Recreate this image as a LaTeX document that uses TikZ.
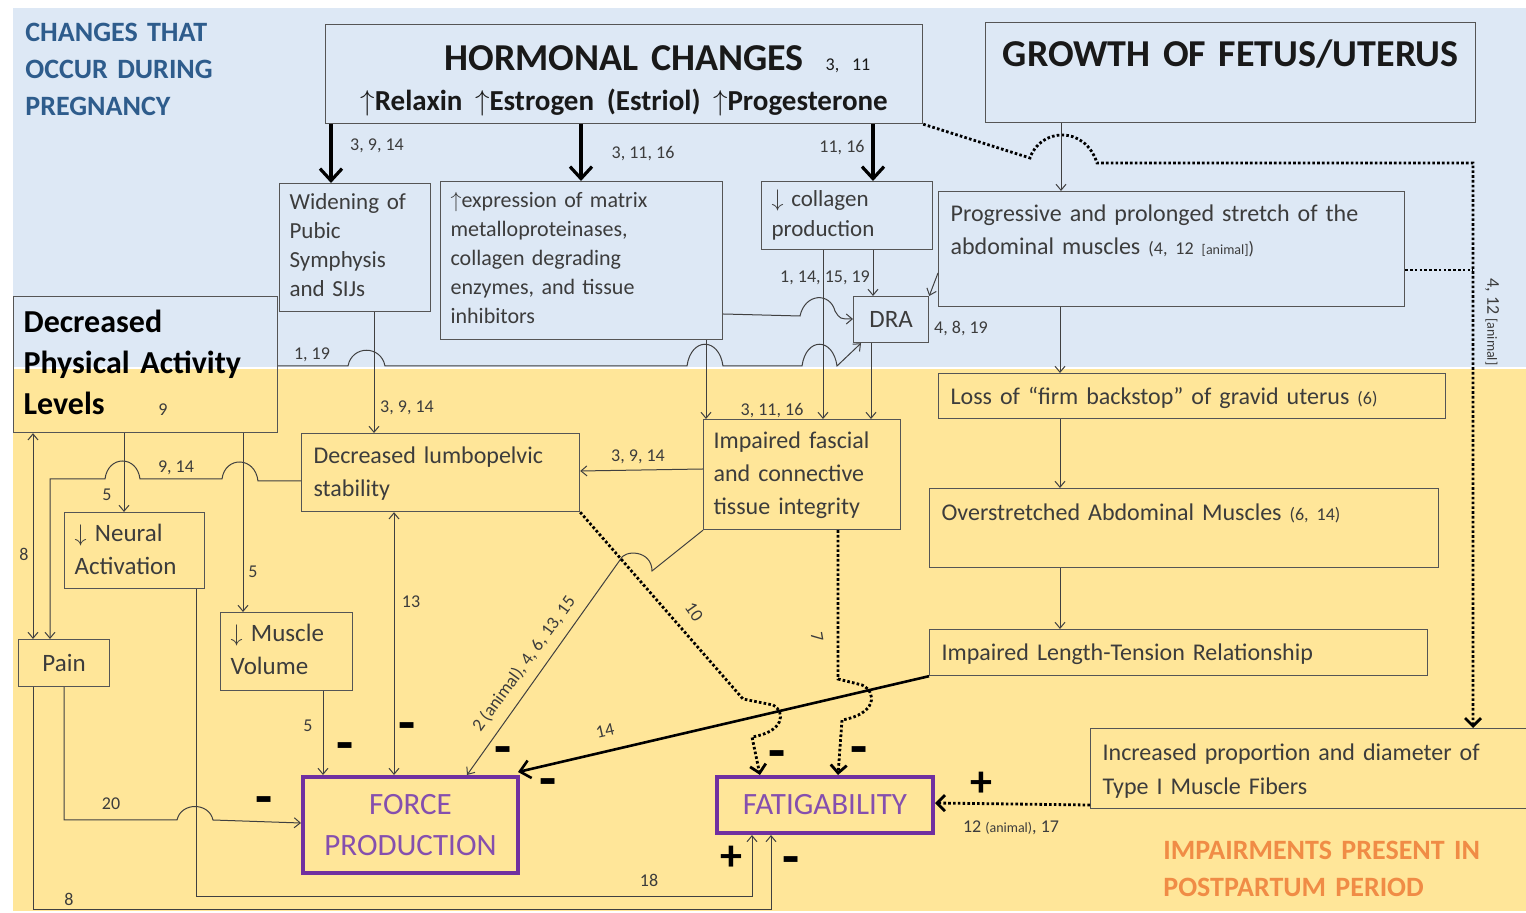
\documentclass[tikz,border=0pt]{standalone}
\usepackage{fontspec}
\setmainfont{Carlito}
\usetikzlibrary{arrows.meta}
\usetikzlibrary{positioning}
\definecolor{bgblue}{RGB}{221,232,245}
\definecolor{bgyellow}{RGB}{255,230,153}
\definecolor{boxgray}{RGB}{85,85,85}
\definecolor{textgray}{RGB}{60,60,60}
\definecolor{titleblue}{RGB}{46,92,140}
\definecolor{postorange}{RGB}{240,140,70}
\definecolor{outpurple}{RGB}{112,48,160}

\begin{document}
\begin{tikzpicture}[
    x=0.5pt, y=-0.5pt,
    font=\fontsize{12}{16.5}\selectfont
]
\tikzset{
    mybox/.style = {draw=boxgray, line width=0.6pt, anchor=north west, align=left, inner xsep=5pt, inner ysep=0pt, text=textgray},
    outbox/.style = {draw=outpurple, line width=2pt, anchor=north west, align=center, inner sep=0pt, text=outpurple!85, font=\fontsize{15.5}{20.5}\selectfont},
    ref/.style = {font=\fontsize{9}{10}\selectfont, text=textgray, inner sep=0.5pt},
    sign/.style = {font=\fontsize{28}{28}\selectfont\bfseries, inner sep=0pt},
    plus/.style = {font=\fontsize{22}{22}\selectfont\bfseries, inner sep=0pt},
    edgen/.style = {-{Straight Barb[length=3pt,width=5pt]}, line width=0.5pt, draw=black!75},
    edgenn/.style = {{Straight Barb[length=3pt,width=5pt]}-{Straight Barb[length=3pt,width=5pt]}, line width=0.5pt, draw=black!75},
    edgeb/.style = {-{Straight Barb[length=6pt,width=11pt]}, line width=1.6pt},
    edged/.style = {-{Straight Barb[length=4pt,width=8pt]}, line width=1.4pt, dash pattern=on 1.3pt off 1.1pt}
}
\useasboundingbox (0,0) rectangle (1526,913);
\fill[bgblue] (13,8) rectangle (1526,367);
\fill[bgyellow] (13,369) rectangle (1526,911);

\node[anchor=base west, inner sep=0pt, align=left, text width=110pt, text=titleblue, font=\fontsize{14}{18.5}\selectfont\bfseries] (pregtitle) at (25,42) {CHANGES THAT\\OCCUR DURING\\PREGNANCY};
\node[anchor=base west, inner sep=0pt, align=left, text width=175pt, text=postorange, font=\fontsize{14}{18.5}\selectfont\bfseries] (posttitle) at (1163,859) {IMPAIRMENTS PRESENT IN\\POSTPARTUM PERIOD};

\node[mybox, align=center, text=black!90, text width=288.5pt, text height=22.75pt, text depth=26.75pt, font=\fontsize{19}{20}\selectfont\bfseries] (hormonal) at (325,24) {HORMONAL CHANGES\rlap{\hspace{11pt}\fontsize{9}{10}\selectfont\mdseries 3, 11}\\\fontsize{14.5}{19.75}\selectfont$\uparrow$Relaxin $\uparrow$Estrogen (Estriol) $\uparrow$Progesterone};
\node[mybox, align=center, text=black!90, text width=235pt, text height=21.75pt, text depth=28.25pt, font=\fontsize{19}{20}\selectfont\bfseries] (growth) at (985,22) {GROWTH OF FETUS/UTERUS};
\node[mybox, text width=65.5pt, text height=13pt, text depth=51pt, font=\fontsize{11.5}{14.5}\selectfont] (widen) at (279,183) {Widening of\\Pubic\\Symphysis\\and SIJs};
\node[mybox, text width=131pt, text height=13pt, text depth=66pt, font=\fontsize{11}{14.5}\selectfont] (expr) at (440,181) {$\uparrow$expression of matrix\\metalloproteinases,\\collagen degrading\\enzymes, and tissue\\inhibitors};
\node[mybox, text width=75.5pt, text height=12.5pt, text depth=21.5pt, font=\fontsize{11.5}{15}\selectfont] (collagen) at (761,181) {$\downarrow$ collagen\\production};
\node[mybox, text width=221pt, text height=15pt, text depth=42.5pt, inner xsep=6pt] (prog) at (938,191) {Progressive and prolonged stretch of the\\abdominal muscles {\fontsize{9}{10}\selectfont(4, 12 {\fontsize{7}{8}\selectfont[animal]})}};
\node[mybox, align=center, minimum width=37.5pt, minimum height=23pt, font=\fontsize{12.5}{15}\selectfont] (dra) at (853,296) {DRA};
\node[mybox, text=black, text width=122pt, text height=18pt, text depth=50pt, inner xsep=5pt, font=\fontsize{16}{20.5}\selectfont\bfseries] (pa) at (13,296) {Decreased\\Physical Activity\\Levels};
\node[mybox, text width=241.5pt, text height=15.5pt, text depth=7pt, inner xsep=6pt] (loss) at (938,373) {Loss of “firm backstop” of gravid uterus {\fontsize{9}{10}\selectfont(6)}};
\node[mybox, text width=127pt, text height=15pt, text depth=24pt, inner xsep=6pt] (lbp) at (301,433) {Decreased lumbopelvic\\stability};
\node[mybox, text width=88.5pt, text height=14.5pt, text depth=40.5pt] (fascial) at (703,419) {Impaired fascial\\and connective\\tissue integrity};
\node[mybox, text width=242.5pt, text height=16pt, text depth=23.5pt, inner xsep=6pt] (over) at (929,488) {Overstretched Abdominal Muscles {\fontsize{9}{10}\selectfont(6, 14)}};
\node[mybox, text width=60pt, text height=14.5pt, text depth=23.5pt, font=\fontsize{12.5}{16.5}\selectfont] (neural) at (64,512) {$\downarrow$ Neural\\Activation};
\node[mybox, align=center, minimum width=45.5pt, minimum height=23.5pt, font=\fontsize{12.5}{15}\selectfont] (pain) at (18,639) {Pain};
\node[mybox, text width=56pt, text height=14.5pt, text depth=24.5pt, font=\fontsize{12.5}{16.5}\selectfont] (muscle) at (220,612) {$\downarrow$ Muscle\\Volume};
\node[mybox, text width=237pt, text height=15.5pt, text depth=7.5pt, inner xsep=6pt] (lt) at (929,629) {Impaired Length-Tension Relationship};
\node[mybox, text width=213pt, text height=16pt, text depth=24pt, inner xsep=6pt, font=\fontsize{12}{17}\selectfont] (incr) at (1090,728) {Increased proportion and diameter of\\Type I Muscle Fibers};
\node[outbox, minimum width=107.5pt, minimum height=48pt] (force) at (301,775) {FORCE\\PRODUCTION};
\node[outbox, minimum width=108pt, minimum height=28pt] (fatig) at (715,775) {FATIGABILITY};

\draw[edgeb] (331,0 |- hormonal.south) -- (331,0 |- widen.north);
\draw[edgeb] (581,0 |- hormonal.south) -- (581,0 |- expr.north);
\draw[edgeb] (873,0 |- hormonal.south) -- (873,0 |- collagen.north);
\node[ref] (r1) at (377,146) {3, 9, 14};
\node[ref] (r2) at (643,154) {3, 11, 16};
\node[ref] (r3) at (842,148) {11, 16};

\draw[edged] (hormonal.south east) -- (1030,158) .. controls (1040,128) and (1085,125) .. (1097,163) -- (1473,163) -- (1473,0 |- incr.north);
\draw[edged, -] (prog.east |- 0,270) -- (1473,270);
\node[ref, rotate=-90] (r4) at (1492,322) {4, 12 {\fontsize{7}{8}\selectfont[animal]}};

\draw[edgen] (1061,0 |- growth.south) -- (1061,0 |- prog.north);
\draw[edgen] (1060,0 |- prog.south) -- (1060,0 |- loss.north);
\draw[edgen] (1060,0 |- loss.south) -- (1060,0 |- over.north);
\draw[edgen] (1060,0 |- over.south) -- (1060,0 |- lt.north);

\draw[edgen] (prog.west |- 0,273) -- (dra.north east);
\draw[edgen] (873,0 |- collagen.south) -- (873,0 |- dra.north);
\node[ref] (r5) at (825,278) {1, 14, 15, 19};
\draw[edgen] (823,0 |- collagen.south) -- (823,0 |- fascial.north);
\draw[edgen] (expr.east |- 0,314) -- (800,316) .. controls (805,293) and (830,292) .. (835,311) .. controls (840,319) .. (dra.west |- 0,319);
\node[ref] (r6) at (961,329) {4, 8, 19};
\draw[edgen] (706,0 |- expr.south) -- (706,0 |- fascial.north);
\draw[edgen] (871,0 |- dra.south) -- (871,0 |- fascial.north);
\node[ref] (r7) at (772,411) {3, 11, 16};

\draw[edgen] (pa.east |- 0,366) -- (348,366) .. controls (352,345) and (381,345) .. (385,366) -- (687,366) .. controls (691,337) and (719,337) .. (723,366) -- (802,366) .. controls (806,337) and (833,337) .. (837,366) -- ([xshift=4pt]dra.south west);
\node[ref] (r8) at (312,355) {1, 19};
\draw[edgen] (374,0 |- widen.south) -- (374,0 |- lbp.north);
\node[ref] (r9) at (407,408) {3, 9, 14};
\draw[edgen] (fascial.west |- 0,469) -- (lbp.east |- 0,471);
\node[ref] (r10) at (638,457) {3, 9, 14};
\node[ref] (r11) at (163,410) {9};

\draw[edgen] (lbp.west |- 0,481) -- (258,481) .. controls (255,456) and (225,456) .. (222,479) -- (140,479) .. controls (137,455) and (108,455) .. (105,479) -- (50,479) -- (50,0 |- pain.north);
\node[ref] (r12) at (176,468) {9, 14};
\draw[edgen] (124,0 |- pa.south) -- (124,0 |- neural.north);
\node[ref] (r13) at (107,495) {5};
\draw[edgen] (243,0 |- pa.south) -- (243,0 |- muscle.north);
\node[ref] (r14) at (253,572) {5};
\draw[edgenn] (33,0 |- pa.south) -- (33,0 |- pain.north);
\node[ref] (r15) at (24,554) {8};

\draw[edgen] (33,0 |- pain.south) -- (33,909) -- (771,909) -- (771,0 |- fatig.south);
\node[ref] (r16) at (69,899) {8};
\draw[edgen] (64,0 |- pain.south) -- (64,820) -- (177,820) .. controls (181,802) and (209,802) .. (213,820) -- (force.west |- 0,823);
\node[ref] (r17) at (111,804) {20};
\draw[edgen] (196,0 |- neural.south) -- (196,896) -- (752,896) -- (752,0 |- fatig.south);
\node[ref] (r18) at (649,880) {18};

\draw[edgen] (323,0 |- muscle.south) -- (323,0 |- force.north);
\node[ref] (r19) at (308,726) {5};
\draw[edgenn] (394,0 |- lbp.south) -- (394,0 |- force.north);
\node[ref] (r20) at (411,602) {13};
\draw[edgen] (fascial.south west) -- (652,571) .. controls (652,550) and (624,549) .. (620,560) -- (467,0 |- force.north);
\node[ref, rotate=54] (r21) at (524,664) {2 (animal), 4, 6, 13, 15};
\draw[edgeb, -{Straight Barb[length=5pt,width=9pt]}, line width=1.3pt] (lt.south west) -- (518,772);
\node[ref, rotate=13] (r22) at (605,731) {14};

\draw[edged] (lbp.south east) -- (743,699) -- (773,705) .. controls (786,712) and (784,732) .. (752,737) -- (760,0 |- fatig.north);
\node[ref, rotate=-55] (r23) at (694,612) {10};
\draw[edged] (838,0 |- fascial.south) -- (838,679) -- (862,685) .. controls (877,692) and (877,714) .. (842,720) -- (838,0 |- fatig.north);
\node[ref, rotate=-80] (r24) at (817,637) {7};
\draw[edged] (incr.west |- 0,805) -- (fatig.east |- 0,803);
\node[ref] (r25) at (1011,828) {12 {\fontsize{7}{8}\selectfont(animal)}, 17};

\node[sign] (m1) at (264,806) {-};
\node[sign] (m2) at (345,752) {-};
\node[sign] (m3) at (407,732) {-};
\node[sign] (m4) at (503,756) {-};
\node[sign] (m5) at (548,788) {-};
\node[sign] (m6) at (777,760) {-};
\node[sign] (m7) at (859,756) {-};
\node[sign] (m8) at (791,866) {-};
\node[plus] (p1) at (731,858) {+};
\node[plus] (p2) at (981,784) {+};
\end{tikzpicture}
\end{document}
